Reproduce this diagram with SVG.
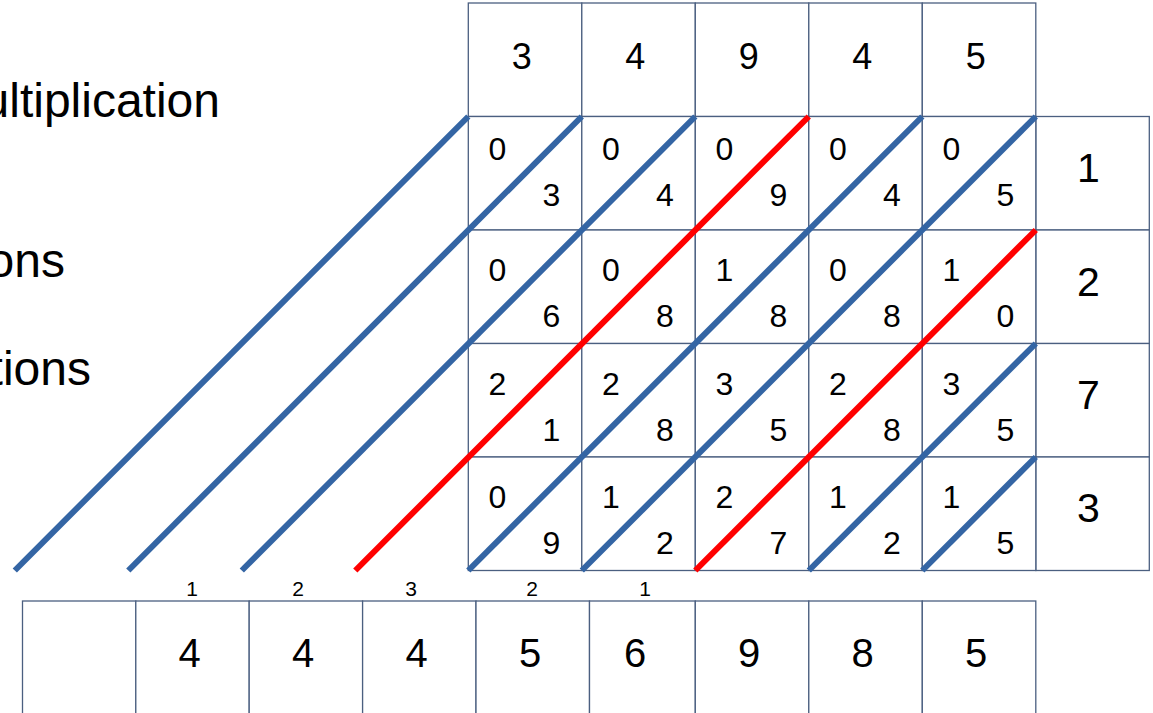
<svg xmlns="http://www.w3.org/2000/svg" width="1153" height="713" viewBox="0 0 1153 713">
<style>
.c{fill:#fff;stroke:#4b5f80;stroke-width:1.3}
text{font-family:"Liberation Sans",Arial,sans-serif;fill:#000;text-anchor:middle}
.t{font-size:48px;text-anchor:end}
.h{font-size:36px}
.r{font-size:41px}
.b{font-size:40px}
.d{font-size:32px}
.s{font-size:21px}
.bl{stroke:#3465a4;stroke-width:6;fill:none}
.rd{stroke:#ff0000;stroke-width:6;fill:none}
</style>
<rect width="1153" height="713" fill="#fff"/>
<g id="title">
<text class="t" x="220" y="117">ultiplication</text>
<text class="t" x="65" y="277">ons</text>
<text class="t" x="91" y="385">tions</text>
</g>
<g id="top-row">
<rect class="c" x="468.3" y="3" width="113.5" height="113.5"/>
<rect class="c" x="581.8" y="3" width="113.5" height="113.5"/>
<rect class="c" x="695.3" y="3" width="113.5" height="113.5"/>
<rect class="c" x="808.8" y="3" width="113.5" height="113.5"/>
<rect class="c" x="922.3" y="3" width="113.5" height="113.5"/>
<text class="h" x="521.7" y="68.5">3</text>
<text class="h" x="635.2" y="68.5">4</text>
<text class="h" x="748.7" y="68.5">9</text>
<text class="h" x="862.2" y="68.5">4</text>
<text class="h" x="975.7" y="68.5">5</text>
</g>
<g id="right-col">
<rect class="c" x="1035.8" y="116.5" width="113.5" height="113.5"/>
<rect class="c" x="1035.8" y="230" width="113.5" height="113.5"/>
<rect class="c" x="1035.8" y="343.5" width="113.5" height="113.5"/>
<rect class="c" x="1035.8" y="457" width="113.5" height="113.5"/>
<text class="r" x="1088.5" y="181.7">1</text>
<text class="r" x="1088.5" y="296">2</text>
<text class="r" x="1088.5" y="408.5">7</text>
<text class="r" x="1088.5" y="521.7">3</text>
</g>
<g id="grid">
<rect class="c" x="468.3" y="116.5" width="113.5" height="113.5"/>
<rect class="c" x="581.8" y="116.5" width="113.5" height="113.5"/>
<rect class="c" x="695.3" y="116.5" width="113.5" height="113.5"/>
<rect class="c" x="808.8" y="116.5" width="113.5" height="113.5"/>
<rect class="c" x="922.3" y="116.5" width="113.5" height="113.5"/>
<rect class="c" x="468.3" y="230" width="113.5" height="113.5"/>
<rect class="c" x="581.8" y="230" width="113.5" height="113.5"/>
<rect class="c" x="695.3" y="230" width="113.5" height="113.5"/>
<rect class="c" x="808.8" y="230" width="113.5" height="113.5"/>
<rect class="c" x="922.3" y="230" width="113.5" height="113.5"/>
<rect class="c" x="468.3" y="343.5" width="113.5" height="113.5"/>
<rect class="c" x="581.8" y="343.5" width="113.5" height="113.5"/>
<rect class="c" x="695.3" y="343.5" width="113.5" height="113.5"/>
<rect class="c" x="808.8" y="343.5" width="113.5" height="113.5"/>
<rect class="c" x="922.3" y="343.5" width="113.5" height="113.5"/>
<rect class="c" x="468.3" y="457" width="113.5" height="113.5"/>
<rect class="c" x="581.8" y="457" width="113.5" height="113.5"/>
<rect class="c" x="695.3" y="457" width="113.5" height="113.5"/>
<rect class="c" x="808.8" y="457" width="113.5" height="113.5"/>
<rect class="c" x="922.3" y="457" width="113.5" height="113.5"/>
</g>
<g id="bottom-row">
<rect class="c" x="22.5" y="601" width="113.3" height="114"/>
<rect class="c" x="135.8" y="601" width="113.4" height="114"/>
<rect class="c" x="249.2" y="601" width="113.4" height="114"/>
<rect class="c" x="362.6" y="601" width="113.4" height="114"/>
<rect class="c" x="476" y="601" width="113.5" height="114"/>
<rect class="c" x="589.5" y="601" width="105.8" height="114"/>
<rect class="c" x="695.3" y="601" width="113.5" height="114"/>
<rect class="c" x="808.8" y="601" width="113.5" height="114"/>
<rect class="c" x="922.3" y="601" width="113.5" height="114"/>
<text class="b" x="189.5" y="666.5">4</text>
<text class="b" x="303" y="666.5">4</text>
<text class="b" x="416.5" y="666.5">4</text>
<text class="b" x="530" y="666.5">5</text>
<text class="b" x="635" y="666.5">6</text>
<text class="b" x="749" y="666.5">9</text>
<text class="b" x="862.5" y="666.5">8</text>
<text class="b" x="976" y="666.5">5</text>
</g>
<g id="connectors">
<line class="bl" x1="468.3" y1="116.5" x2="14.8" y2="570.5"/>
<line class="bl" x1="581.8" y1="116.5" x2="128.3" y2="570.5"/>
<line class="bl" x1="695.3" y1="116.5" x2="241.8" y2="570.5"/>
<line class="rd" x1="808.8" y1="116.5" x2="355.3" y2="570.5"/>
<line class="bl" x1="922.3" y1="116.5" x2="468.3" y2="570.5"/>
<line class="bl" x1="1035.8" y1="116.5" x2="581.8" y2="570.5"/>
<line class="rd" x1="1035.8" y1="230" x2="695.3" y2="570.5"/>
<line class="bl" x1="1035.8" y1="343.5" x2="808.8" y2="570.5"/>
<line class="bl" x1="1035.8" y1="457" x2="922.3" y2="570.5"/>
</g>
<g id="cell-digits">
<text class="d" x="497.3" y="160">0</text><text class="d" x="551.3" y="206">3</text>
<text class="d" x="610.8" y="160">0</text><text class="d" x="664.8" y="206">4</text>
<text class="d" x="724.3" y="160">0</text><text class="d" x="778.3" y="206">9</text>
<text class="d" x="837.8" y="160">0</text><text class="d" x="891.8" y="206">4</text>
<text class="d" x="951.3" y="160">0</text><text class="d" x="1005.3" y="206">5</text>
<text class="d" x="497.3" y="281">0</text><text class="d" x="551.3" y="327">6</text>
<text class="d" x="610.8" y="281">0</text><text class="d" x="664.8" y="327">8</text>
<text class="d" x="724.3" y="281">1</text><text class="d" x="778.3" y="327">8</text>
<text class="d" x="837.8" y="281">0</text><text class="d" x="891.8" y="327">8</text>
<text class="d" x="951.3" y="281">1</text><text class="d" x="1005.3" y="327">0</text>
<text class="d" x="497.3" y="394.5">2</text><text class="d" x="551.3" y="440.5">1</text>
<text class="d" x="610.8" y="394.5">2</text><text class="d" x="664.8" y="440.5">8</text>
<text class="d" x="724.3" y="394.5">3</text><text class="d" x="778.3" y="440.5">5</text>
<text class="d" x="837.8" y="394.5">2</text><text class="d" x="891.8" y="440.5">8</text>
<text class="d" x="951.3" y="394.5">3</text><text class="d" x="1005.3" y="440.5">5</text>
<text class="d" x="497.3" y="507.5">0</text><text class="d" x="551.3" y="553.5">9</text>
<text class="d" x="610.8" y="507.5">1</text><text class="d" x="664.8" y="553.5">2</text>
<text class="d" x="724.3" y="507.5">2</text><text class="d" x="778.3" y="553.5">7</text>
<text class="d" x="837.8" y="507.5">1</text><text class="d" x="891.8" y="553.5">2</text>
<text class="d" x="951.3" y="507.5">1</text><text class="d" x="1005.3" y="553.5">5</text>
</g>
<g id="carries">
<text class="s" x="192" y="596">1</text>
<text class="s" x="298" y="596">2</text>
<text class="s" x="411" y="596">3</text>
<text class="s" x="532" y="596">2</text>
<text class="s" x="645" y="596">1</text>
</g>
</svg>
